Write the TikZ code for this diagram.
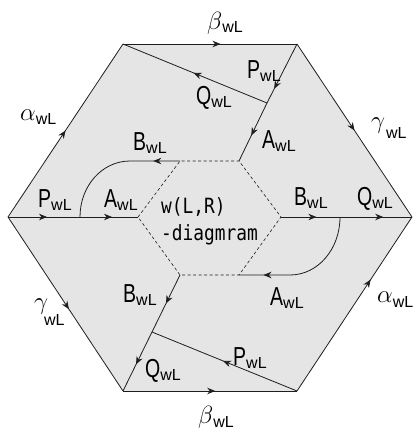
\documentclass[tikz,border=0pt]{standalone}
\usepackage{fontspec}
\setmainfont{Liberation Sans}
\newfontfamily\labfont[FakeStretch=0.75]{Liberation Sans}
\newfontfamily\monofont[FakeStretch=0.85]{DejaVu Sans Mono}
\usepackage{xcolor}
\usetikzlibrary{arrows.meta,decorations.markings}
\definecolor{hexfill}{HTML}{E5E5E5}
\definecolor{linegray}{HTML}{1E1E1E}
\newcommand{\subwl}{\fontsize{16}{16}\selectfont wL}
\newcommand{\wl}[2][3pt]{{\labfont\fontsize{26}{26}\selectfont #2}\raisebox{-#1}{\subwl}}
\newcommand{\gwl}[3]{{\fontsize{30}{30}\selectfont$#3$}\kern#2\raisebox{-#1}{\subwl}}

\begin{document}
\begin{tikzpicture}[x=1pt,y=-1pt,
      lbl/.style={anchor=base west,inner sep=0pt},
      edge/.style={draw=linegray,line width=0.8pt},
      dashedge/.style={draw=linegray,line width=0.6pt,dash pattern=on 3pt off 2.5pt},
      tip/.style={postaction={decorate,decoration={markings,mark=at position #1 with {\arrow{Stealth[length=8pt,width=6.5pt]}}}}}
    ]
      \useasboundingbox (0,0) rectangle (416,434);

      % outer and inner hexagon corners
      \coordinate (oL) at (8,217);
      \coordinate (oTL) at (123,44);
      \coordinate (oTR) at (297,44);
      \coordinate (oR) at (412,217);
      \coordinate (oBR) at (297,391);
      \coordinate (oBL) at (123,391);
      \coordinate (iL) at (138,217);
      \coordinate (iTL) at (180,161);
      \coordinate (iTR) at (239,161);
      \coordinate (iR) at (281,217);
      \coordinate (iBR) at (239,275);
      \coordinate (iBL) at (180,275);
      \coordinate (jT) at (267,103);
      \coordinate (jB) at (152,332);
      \coordinate (bEnd) at (80,217);
      \coordinate (aStart) at (340,217);

      \fill[hexfill] (oL) -- (oTL) -- (oTR) -- (oR) -- (oBR) -- (oBL) -- cycle;

      % boundary
      \draw[edge,tip=0.56] (oTL) -- (oTR);
      \draw[edge,tip=0.5] (oL) -- (oTL);
      \draw[edge,tip=0.5] (oTR) -- (oR);
      \draw[edge,tip=0.53] (oL) -- (oBL);
      \draw[edge,tip=0.64] (oBR) -- (oR);
      \draw[edge,tip=0.53] (oBL) -- (oBR);

      % middle line
      \draw[edge,tip=0.3,tip=0.8] (oL) -- (iL);
      \draw[edge,tip=0.27,tip=0.78] (iR) -- (oR);

      % diagonals
      \draw[edge,tip=0.76] (oTR) -- (jT);
      \draw[edge,tip=0.56] (jT) -- (iTR);
      \draw[edge,tip=0.51] (jT) -- (oTL);
      \draw[edge,tip=0.5] (iBL) -- (jB);
      \draw[edge,tip=0.55] (jB) -- (oBL);
      \draw[edge,tip=0.51] (oBR) -- (jB);

      % curved strands
      \draw[edge,tip=0.2] (iTL) -- (130,161) .. controls (102,161) and (80,186) .. (bEnd);
      \draw[edge,tip=0.82] (aStart) .. controls (340,249) and (318,275) .. (290,275) -- (iBR);

      \draw[dashedge] (iL) -- (iTL) -- (iTR) -- (iR) -- (iBR) -- (iBL) -- cycle;

      % labels
      \node[lbl] (betaT) at (207,29) {\gwl{3pt}{0pt}{\beta}};
      \node[lbl] (alphaT) at (20,120) {\gwl{4pt}{0pt}{\alpha}};
      \node[lbl] (gammaT) at (371,128) {\gwl{10pt}{1pt}{\gamma}};
      \node[lbl] (pT) at (247,78) {\wl{P}};
      \node[lbl] (qT) at (196,104) {\wl{Q}};
      \node[lbl] (aT) at (262,148) {\wl{A}};
      \node[lbl] (bT) at (133,150) {\wl{B}};
      \node[lbl] (pL) at (38,207) {\wl{P}};
      \node[lbl] (aL) at (104,207) {\wl{A}};
      \node[lbl] (bR) at (294,205) {\wl{B}};
      \node[lbl] (qR) at (357,205) {\wl{Q}};
      \node[lbl] (gammaB) at (34,309) {\gwl{16pt}{-4pt}{\gamma}};
      \node[lbl] (bB) at (123,302) {\wl{B}};
      \node[lbl] (aB) at (270,305) {\wl{A}};
      \node[lbl] (alphaB) at (377,302) {\gwl{5pt}{0pt}{\alpha}};
      \node[lbl] (pB) at (233,365) {\wl{P}};
      \node[lbl] (qB) at (145,377) {\wl{Q}};
      \node[lbl] (betaB) at (198,423) {\gwl{4pt}{0pt}{\beta}};
      \node[font=\monofont\fontsize{21}{27}\selectfont,align=left,inner sep=0pt,anchor=west] (wdiag) at (161,221) {w(L,R)\\-diagmram};
    \end{tikzpicture}
\end{document}
